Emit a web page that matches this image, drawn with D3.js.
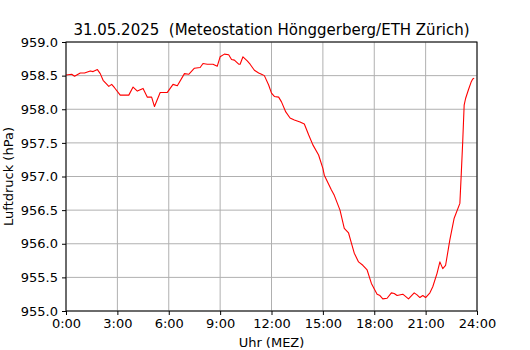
<!DOCTYPE html>
<html>
<head>
<meta charset="utf-8">
<style>
  body { margin: 0; background: white; }
  svg text { font-family: "DejaVu Sans", sans-serif; fill: black; }
</style>
</head>
<body>
<div id="chart"></div>
<script src="https://d3js.org/d3.v7.min.js"></script>
<script>
// minutes after midnight (MEZ)
var minutes = [0, 20, 30, 50, 65, 85, 95, 110, 120, 130, 150, 160, 170, 190, 220, 235, 250, 270, 285, 300,
  310, 330, 345, 355, 375, 390, 415, 430, 450, 470, 480, 495, 515, 530, 540, 555, 570, 580, 590, 605,
  610, 620, 635, 645, 660, 675, 685, 695, 710, 720, 730, 745, 755, 770, 785, 800, 820, 835, 850, 865,
  885, 900, 905, 930, 940, 960, 975, 990, 1000, 1010, 1025, 1040, 1055, 1070, 1090, 1100, 1110, 1125, 1140, 1150,
  1160, 1180, 1200, 1220, 1230, 1240, 1250, 1260, 1275, 1285, 1300, 1310, 1320, 1330, 1345, 1360, 1380, 1385, 1390, 1395,
  1400, 1410, 1420, 1425, 1430];
// air pressure hPa
var pressure = [958.51, 958.52, 958.49, 958.54, 958.54, 958.57, 958.56, 958.59, 958.53, 958.43, 958.34, 958.37, 958.32, 958.21, 958.21, 958.33, 958.27, 958.31, 958.18, 958.18,
  958.04, 958.25, 958.25, 958.25, 958.37, 958.35, 958.53, 958.52, 958.61, 958.62, 958.68, 958.67, 958.67, 958.64, 958.78, 958.82, 958.81, 958.74, 958.73, 958.67,
  958.67, 958.78, 958.72, 958.67, 958.58, 958.54, 958.52, 958.50, 958.36, 958.24, 958.19, 958.18, 958.11, 957.96, 957.87, 957.84, 957.81, 957.78, 957.62, 957.47,
  957.32, 957.12, 957.02, 956.80, 956.72, 956.50, 956.23, 956.16, 956.01, 955.86, 955.73, 955.68, 955.61, 955.41, 955.25, 955.23, 955.18, 955.19, 955.27, 955.26,
  955.23, 955.25, 955.18, 955.27, 955.24, 955.20, 955.23, 955.20, 955.27, 955.36, 955.56, 955.73, 955.63, 955.68, 956.06, 956.38, 956.60, 957.05, 957.52, 958.06,
  958.16, 958.29, 958.41, 958.45, 958.46];
var xTicks = [0, 3, 6, 9, 12, 15, 18, 21, 24];
var xTickLabels = ["0:00", "3:00", "6:00", "9:00", "12:00", "15:00", "18:00", "21:00", "24:00"];
var yTicks = [955.0, 955.5, 956.0, 956.5, 957.0, 957.5, 958.0, 958.5, 959.0];

var width = 530, height = 350;
var margin = {top: 42, right: 53, bottom: 39, left: 66};
var w = width - margin.left - margin.right, h = height - margin.top - margin.bottom;

var svg = d3.select("#chart").append("svg")
  .attr("width", width)
  .attr("height", height);

var g = svg.append("g")
  .attr("transform", "translate(" + margin.left + "," + margin.top + ")");

var x = d3.scaleLinear().domain([0, 24]).range([0, w]);
var y = d3.scaleLinear().domain([955, 959]).range([h, 0]);

// grid
g.append("g").selectAll("line").data(xTicks).enter().append("line")
  .attr("x1", d => x(d)).attr("x2", d => x(d))
  .attr("y1", 0).attr("y2", h)
  .attr("stroke", "#b0b0b0").attr("stroke-width", 1);
g.append("g").selectAll("line").data(yTicks).enter().append("line")
  .attr("x1", 0).attr("x2", w)
  .attr("y1", d => y(d)).attr("y2", d => y(d))
  .attr("stroke", "#b0b0b0").attr("stroke-width", 1);

// axes
var xAxis = g.append("g")
  .attr("transform", "translate(0," + h + ")")
  .call(d3.axisBottom(x).tickValues(xTicks).tickSize(4).tickPadding(4)
    .tickFormat((d, i) => xTickLabels[i]));
var yAxis = g.append("g")
  .call(d3.axisLeft(y).tickValues(yTicks).tickSize(4).tickPadding(4)
    .tickFormat(d3.format(".1f")));
[xAxis, yAxis].forEach(a => {
  a.select(".domain").remove();
  a.selectAll("text").style("font-size", "13px").attr("font-family", null);
  a.selectAll("line").attr("stroke", "black");
});

// data line
var line = d3.line()
  .x((d, i) => x(minutes[i] / 60))
  .y(d => y(d));
g.append("path")
  .datum(pressure)
  .attr("fill", "none")
  .attr("stroke", "red")
  .attr("stroke-width", 1.1)
  .attr("stroke-linejoin", "round")
  .attr("d", line);

// frame
g.append("rect")
  .attr("width", w).attr("height", h)
  .attr("fill", "none").attr("stroke", "black").attr("stroke-width", 1);

// labels
svg.append("text")
  .attr("x", margin.left + w / 2).attr("y", 35)
  .attr("text-anchor", "middle")
  .style("font-size", "15px")
  .text("31.05.2025  (Meteostation Hönggerberg/ETH Zürich)")
  .attr("xml:space", "preserve");

svg.append("text")
  .attr("x", margin.left + w / 2).attr("y", 347)
  .attr("text-anchor", "middle")
  .style("font-size", "13px")
  .text("Uhr (MEZ)");

svg.append("text")
  .attr("transform", "translate(13," + (margin.top + h / 2) + ") rotate(-90)")
  .attr("text-anchor", "middle")
  .style("font-size", "13px")
  .text("Luftdruck (hPa)");
</script>
</body>
</html>
